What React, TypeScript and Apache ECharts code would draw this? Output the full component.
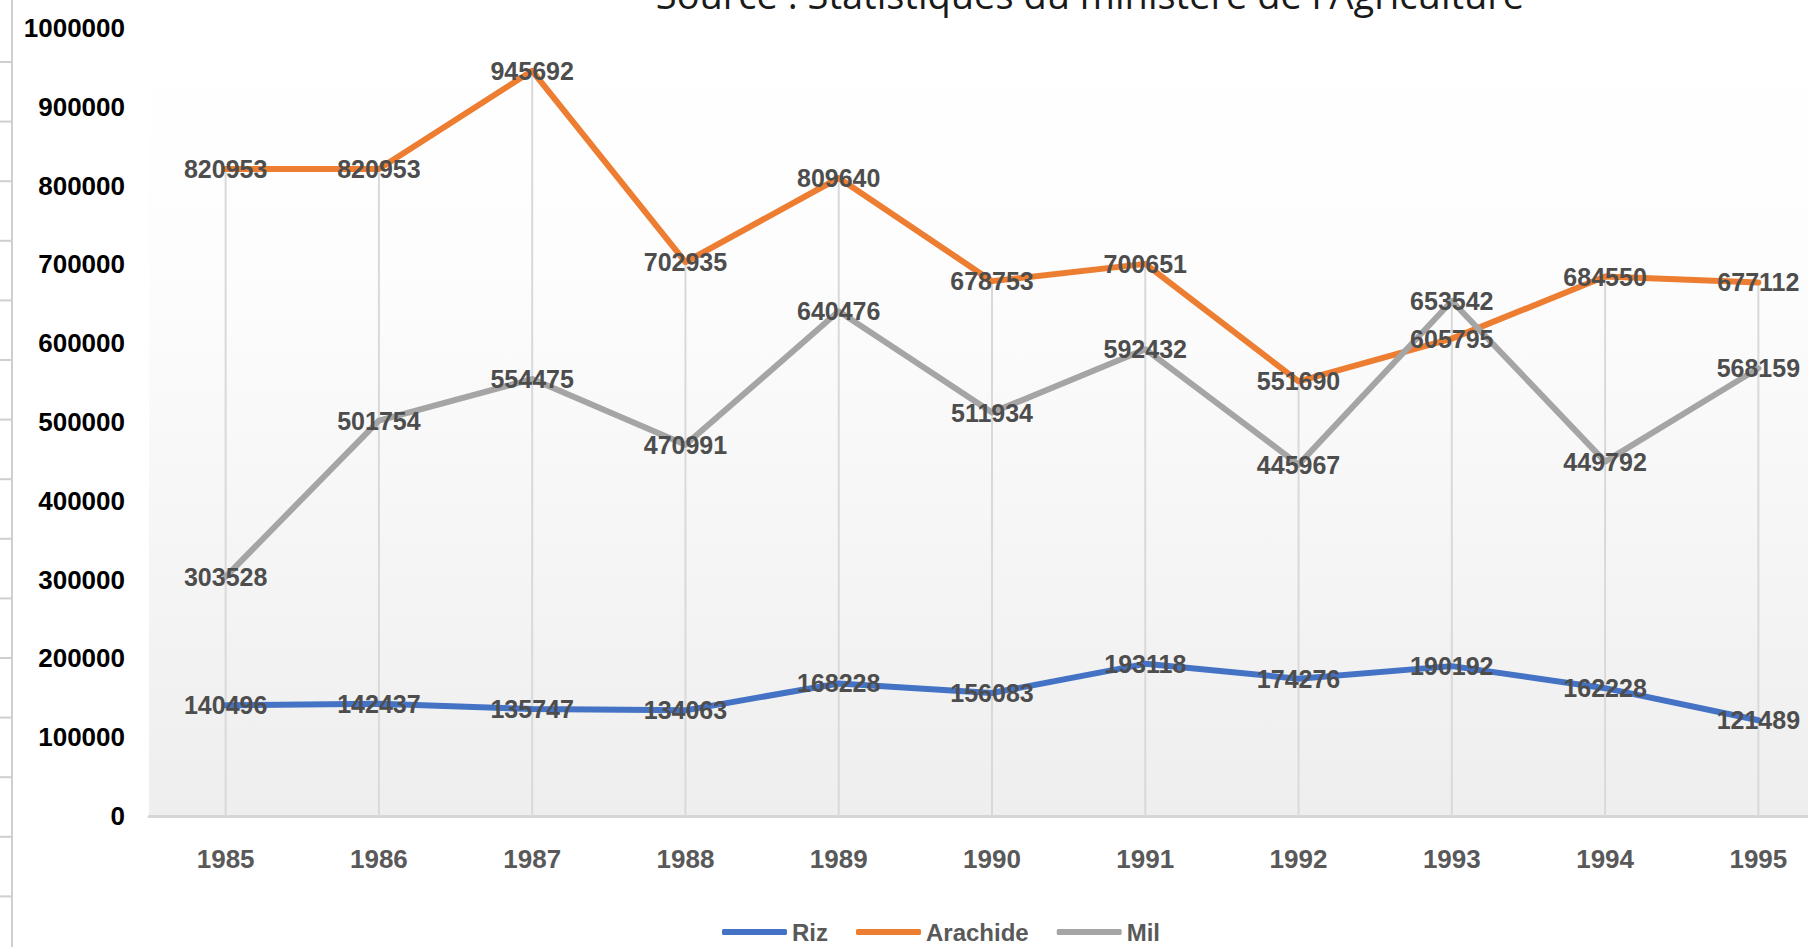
import React, { useEffect, useRef } from "react";
import * as echarts from "echarts";

const years = ["1985", "1986", "1987", "1988", "1989", "1990", "1991", "1992", "1993", "1994", "1995"];
const riz = [140496, 142437, 135747, 134063, 168228, 156083, 193118, 174276, 190192, 162228, 121489];
const arachide = [820953, 820953, 945692, 702935, 809640, 678753, 700651, 551690, 605795, 684550, 677112];
const mil = [303528, 501754, 554475, 470991, 640476, 511934, 592432, 445967, 653542, 449792, 568159];
const seriesNames = ["Riz", "Arachide", "Mil"];
const colors = ["#4472C4", "#ED7D31", "#A5A5A5"];
const titleText = "Source : Statistiques du ministère de l'Agriculture";

const dropLines = years.map((_, i) => Math.max(riz[i], arachide[i], mil[i]));

const FONT = "'Liberation Sans', Arial, sans-serif";

export default function App() {
  const ref = useRef<HTMLDivElement>(null);
  useEffect(() => {
    if (!ref.current) return;
    const chart = echarts.init(ref.current, undefined, { renderer: "svg" });

    const sheet: any[] = [
      { type: "line", shape: { x1: 12, y1: 0, x2: 12, y2: 947 }, style: { stroke: "#cfcfcf", lineWidth: 2 }, silent: true },
    ];
    for (let y = 62; y < 947; y += 59.6) {
      sheet.push({ type: "line", shape: { x1: 0, y1: y, x2: 12, y2: y }, style: { stroke: "#cfcfcf", lineWidth: 2 }, silent: true });
    }

    const labelStyle = {
      show: true,
      position: "inside",
      fontFamily: FONT,
      fontSize: 25,
      fontWeight: "bold",
      color: "#4d4d4d",
    };

    const data = [riz, arachide, mil];

    chart.setOption({
      animation: false,
      backgroundColor: "#ffffff",
      grid: {
        left: 149,
        top: 28,
        width: 1686,
        height: 788,
        show: true,
        borderWidth: 0,
        backgroundColor: new echarts.graphic.LinearGradient(0, 0, 0, 1, [
          { offset: 0, color: "#ffffff" },
          { offset: 0.3, color: "#fdfdfd" },
          { offset: 1, color: "#eeeeee" },
        ]),
      },
      graphic: [
        ...sheet,
        {
          type: "text",
          x: 1090,
          y: 13,
          style: {
            text: titleText,
            fontFamily: "'Open Sans', sans-serif",
            fontSize: 38,
            fill: "#1a1a1a",
            align: "center",
            verticalAlign: "bottom",
          },
          silent: true,
        },
      ],
      legend: {
        data: seriesNames,
        left: 717,
        top: 915,
        icon: "roundRect",
        itemWidth: 65,
        itemHeight: 6,
        itemGap: 28,
        textStyle: { fontFamily: FONT, fontSize: 24, fontWeight: "bold", color: "#595959" },
      },
      xAxis: {
        type: "category",
        data: years,
        boundaryGap: true,
        axisLine: { show: true, lineStyle: { color: "#d6d6d6", width: 3 } },
        axisTick: { show: false },
        splitLine: { show: false },
        axisLabel: { margin: 30, fontFamily: FONT, fontSize: 26, fontWeight: "bold", color: "#595959" },
      },
      yAxis: {
        type: "value",
        min: 0,
        max: 1000000,
        interval: 100000,
        axisLine: { show: false },
        axisTick: { show: false },
        splitLine: { show: false },
        axisLabel: {
          margin: 24,
          fontFamily: FONT,
          fontSize: 26,
          fontWeight: "bold",
          color: "#000000",
          formatter: (v: number) => String(v),
        },
      },
      series: [
        {
          name: "drop",
          type: "bar",
          data: dropLines,
          barWidth: 2,
          itemStyle: { color: "#d9d9d9" },
          silent: true,
          z: 1,
        },
        ...seriesNames.map((name, i) => ({
          name,
          type: "line",
          data: data[i],
          color: colors[i],
          symbol: "circle",
          symbolSize: 1,
          showSymbol: true,
          lineStyle: { width: 6, color: colors[i], cap: "round", join: "round" },
          itemStyle: { color: colors[i] },
          label: labelStyle,
          z: 3,
        })),
      ],
    });
    return () => chart.dispose();
  }, []);
  return <div ref={ref} style={{ position: "fixed", left: 0, top: 0, width: 1860, height: 947 }} />;
}
